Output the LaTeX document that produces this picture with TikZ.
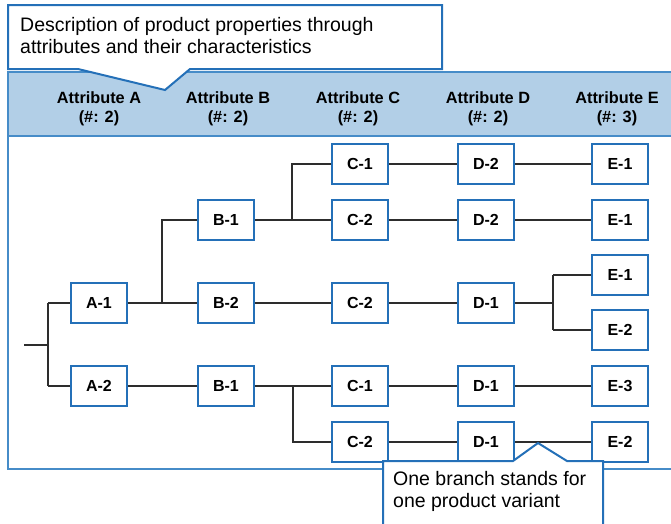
\documentclass[tikz,border=0pt]{standalone}
\usepackage{fontspec}
\setmainfont{Liberation Sans}
\definecolor{boxblue}{RGB}{36,112,184}
\definecolor{frameblue}{RGB}{70,140,200}
\definecolor{bandfill}{RGB}{178,207,231}
\definecolor{linegray}{RGB}{45,45,45}
\begin{document}
\begin{tikzpicture}[x=1pt,y=-1pt,
  attr/.style={draw=boxblue, line width=2.6pt, fill=white, minimum width=56pt,
    minimum height=40pt, inner sep=0pt, font=\fontsize{16}{18}\selectfont\bfseries},
  link/.style={draw=linegray, line width=1.3pt},
  head/.style={align=center, inner sep=0pt, font=\fontsize{16.3}{18.5}\selectfont\bfseries},
  callout/.style={draw=boxblue, line width=2pt, fill=white, line join=miter},
  note/.style={anchor=base west, inner sep=0pt, font=\fontsize{19.5}{22}\selectfont}]

\useasboundingbox (0,0) rectangle (671,523);

% header band and outer frame
\fill[bandfill] (8,72) rectangle (690,136);
\draw[frameblue, line width=1.6pt] (690,72) -- (8,72) -- (8,469) -- (690,469);
\draw[frameblue, line width=1.6pt] (8,136) -- (690,136);

% column headings
\foreach \x/\l/\n in {99/A/2, 228/B/2, 358/C/2, 488/D/2, 617/E/3}
  \node[head] (h\l) at (\x,109) {Attribute \l\\(\#: \n)};

% top callout
\draw[callout] (8,5) -- (442,5) -- (442,69) -- (190,69) -- (165,90) -- (78,69) -- (8,69) -- cycle;
\node[note] (t1) at (20,31) {Description of product properties through};
\node[note] (t2) at (20,53) {attributes and their characteristics};

% attribute characteristics
\node[attr] (a1)  at (99,303) {A-1};
\node[attr] (a2)  at (99,386) {A-2};
\node[attr] (b1u) at (226,220) {B-1};
\node[attr] (b2)  at (226,303) {B-2};
\node[attr] (b1l) at (226,386) {B-1};
\node[attr] (c1u) at (360,164) {C-1};
\node[attr] (c2u) at (360,220) {C-2};
\node[attr] (c2m) at (360,303) {C-2};
\node[attr] (c1l) at (360,386) {C-1};
\node[attr] (c2l) at (360,442) {C-2};
\node[attr] (d2u) at (486,164) {D-2};
\node[attr] (d2m) at (486,220) {D-2};
\node[attr] (d1m) at (486,303) {D-1};
\node[attr] (d1l) at (486,386) {D-1};
\node[attr] (d1b) at (486,442) {D-1};
\node[attr] (e1u) at (620,164) {E-1};
\node[attr] (e1m) at (620,220) {E-1};
\node[attr] (e1r) at (620,275) {E-1};
\node[attr] (e2r) at (620,330) {E-2};
\node[attr] (e3)  at (620,386) {E-3};
\node[attr] (e2b) at (620,442) {E-2};

% branching connectors
\coordinate (root) at (24,345);
\coordinate (ja) at (48,345);
\coordinate (jb) at (162,303);
\coordinate (jcu) at (292,220);
\coordinate (jcl) at (293,386);
\coordinate (je) at (553,303);

\draw[link] (root) -- (ja);
\draw[link] (ja |- a1) -- (ja |- a2);
\draw[link] (ja |- a1) -- (a1.west);
\draw[link] (ja |- a2) -- (a2.west);

\draw[link] (a1.east) -- (b2.west);
\draw[link] (jb) -- (jb |- b1u) -- (b1u.west);
\draw[link] (a2.east) -- (b1l.west);

\draw[link] (b1u.east) -- (c2u.west);
\draw[link] (jcu) -- (jcu |- c1u) -- (c1u.west);
\draw[link] (b2.east) -- (c2m.west);
\draw[link] (b1l.east) -- (c1l.west);
\draw[link] (jcl) -- (jcl |- c2l) -- (c2l.west);

\draw[link] (c1u.east) -- (d2u.west);
\draw[link] (c2u.east) -- (d2m.west);
\draw[link] (c2m.east) -- (d1m.west);
\draw[link] (c1l.east) -- (d1l.west);
\draw[link] (c2l.east) -- (d1b.west);

\draw[link] (d2u.east) -- (e1u.west);
\draw[link] (d2m.east) -- (e1m.west);
\draw[link] (d1m.east) -- (je);
\draw[link] (je |- e1r) -- (je |- e2r);
\draw[link] (je |- e1r) -- (e1r.west);
\draw[link] (je |- e2r) -- (e2r.west);
\draw[link] (d1l.east) -- (e3.west);
\draw[link] (d1b.east) -- (e2b.west);

% bottom callout
\draw[callout] (383,535) -- (383,461) -- (513,461) -- (538,443) -- (567,461) -- (603,461) -- (603,535);
\node[note] (n1) at (393,485) {One branch stands for};
\node[note] (n2) at (393,507) {one product variant};
\end{tikzpicture}
\end{document}
